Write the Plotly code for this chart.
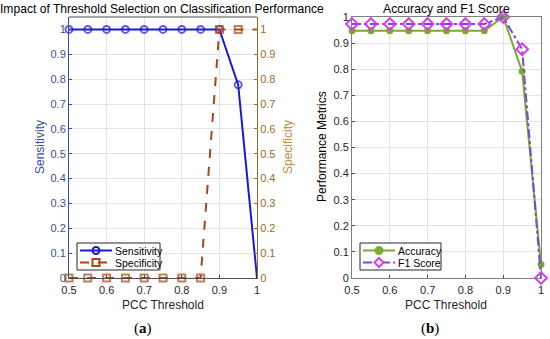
import plotly.graph_objects as go

thresholds = [0.5, 0.55, 0.6, 0.65, 0.7, 0.75, 0.8, 0.85, 0.9, 0.95, 1.0]
sensitivity = [1, 1, 1, 1, 1, 1, 1, 1, 1, 0.777, 0]
specificity = [0, 0, 0, 0, 0, 0, 0, 0, 1, 1, 1]
accuracy = [0.947, 0.947, 0.947, 0.947, 0.947, 0.947, 0.947, 0.947, 1.0, 0.792, 0.052]
f1_score = [0.973, 0.973, 0.973, 0.973, 0.973, 0.973, 0.973, 0.973, 1.0, 0.876, 0.0]
y_ticks = [0, 0.1, 0.2, 0.3, 0.4, 0.5, 0.6, 0.7, 0.8, 0.9, 1]
x_ticks = [0.5, 0.6, 0.7, 0.8, 0.9, 1]

W, H = 550, 339
def px(x):
    return x / W
def py(y):
    return 1 - y / H

FONT = "Liberation Sans, Arial, sans-serif"
BLUE = "#1a1ad0"
BROWN = "#a8461a"
LBLUE = "#3a4f9c"
LBROWN = "#9a6a2a"
GREEN = "#77ac30"
PURPLE = "#7a45e6"
MAGENTA = "#d63cf0"
GRID = "#e3e3e3"

# markers at the right edge (x = 1) are not visible in the left panel
edge_hidden = [7] * (len(thresholds) - 1) + [0]

fig = go.Figure()

fig.add_trace(go.Scatter(x=thresholds, y=sensitivity, name="Sensitivity", mode="lines+markers",
                         line=dict(color=BLUE, width=2),
                         marker=dict(symbol="circle-open", size=edge_hidden, color=BLUE, line=dict(width=2)),
                         xaxis="x", yaxis="y", cliponaxis=False))
fig.add_trace(go.Scatter(x=thresholds, y=specificity, name="Specificity", mode="lines+markers",
                         line=dict(color=BROWN, width=2, dash="dash"),
                         marker=dict(symbol="square-open", size=edge_hidden, color=BROWN, line=dict(width=2)),
                         xaxis="x", yaxis="y2", cliponaxis=False))
fig.add_trace(go.Scatter(x=thresholds, y=accuracy, name="Accuracy", mode="lines+markers",
                         line=dict(color=GREEN, width=2),
                         marker=dict(symbol="circle", size=7, color=GREEN),
                         xaxis="x2", yaxis="y3", cliponaxis=False))
fig.add_trace(go.Scatter(x=thresholds, y=f1_score, name="F1 Score", mode="lines+markers",
                         line=dict(color=PURPLE, width=2, dash="dashdot"),
                         marker=dict(symbol="diamond-open", size=9, color=MAGENTA, line=dict(width=2)),
                         xaxis="x2", yaxis="y3", cliponaxis=False))

xcommon = dict(range=[0.5, 1], tickvals=x_ticks, ticktext=[f"{v:g}" for v in x_ticks],
               showgrid=True, gridcolor=GRID, gridwidth=1, zeroline=False, automargin=False,
               showline=True, linecolor="#4d4d4d", linewidth=1, mirror=False,
               ticks="inside", ticklen=3, tickcolor="#4d4d4d", ticklabelstandoff=2,
               tickfont=dict(family=FONT, size=11, color="#262626"))

fig.update_layout(
    width=W, height=H, margin=dict(l=0, r=0, t=0, b=0),
    paper_bgcolor="white", plot_bgcolor="white", showlegend=False,
    xaxis=dict(domain=[px(69), px(257)], anchor="y", **xcommon),
    xaxis2=dict(domain=[px(352), px(541)], anchor="y3", **{**xcommon, "mirror": True, "linecolor": "#7f7f7f"}),
    yaxis=dict(domain=[py(278), py(17)], range=[0, 1.05], tickvals=y_ticks,
               ticktext=[f"{v:g}" for v in y_ticks], showgrid=True, gridcolor=GRID,
               zeroline=False, showline=True, linecolor=LBLUE, linewidth=1, automargin=False,
               ticks="inside", ticklen=3, tickcolor=LBLUE, anchor="x",
               tickfont=dict(family=FONT, size=11, color=LBLUE)),
    yaxis2=dict(overlaying="y", side="right", anchor="x", range=[0, 1.05], tickvals=y_ticks,
                ticktext=[f"{v:g}" for v in y_ticks], showgrid=False, zeroline=False, automargin=False,
                showline=True, linecolor=LBROWN, linewidth=1, ticks="inside", ticklen=3,
                tickcolor=LBROWN, tickfont=dict(family=FONT, size=11, color=LBROWN)),
    yaxis3=dict(domain=[py(278), py(17)], range=[0, 1], tickvals=y_ticks,
                ticktext=[f"{v:g}" for v in y_ticks], showgrid=True, gridcolor=GRID, automargin=False,
                zeroline=False, showline=True, mirror=True, linecolor="#7f7f7f", linewidth=1,
                ticks="inside", ticklen=3, tickcolor="#4d4d4d", anchor="x2",
                tickfont=dict(family=FONT, size=11, color="#262626")),
)

# top edge line of left panel (box)
fig.add_shape(type="line", xref="paper", yref="paper", x0=px(69), x1=px(257), y0=py(17), y1=py(17),
              line=dict(color="#4d4d4d", width=1), layer="above")

# ---- manual legends (box, sample lines, markers, labels) ----
def legend_box(x0, x1, y0, y1):
    fig.add_shape(type="rect", xref="paper", yref="paper", x0=px(x0), x1=px(x1), y0=py(y1), y1=py(y0),
                  fillcolor="white", line=dict(color="#262626", width=1), layer="above")

def legend_line(x0, x1, y, color, dash):
    fig.add_shape(type="line", xref="paper", yref="paper", x0=px(x0), x1=px(x1), y0=py(y), y1=py(y),
                  line=dict(color=color, width=2, dash=dash), layer="above")

def legend_circle(cx, cy, r, color, fill):
    fig.add_shape(type="circle", xref="paper", yref="paper", x0=px(cx - r), x1=px(cx + r),
                  y0=py(cy + r), y1=py(cy - r), line=dict(color=color, width=2),
                  fillcolor=fill, layer="above")

def legend_square(cx, cy, r, color):
    fig.add_shape(type="rect", xref="paper", yref="paper", x0=px(cx - r), x1=px(cx + r),
                  y0=py(cy + r), y1=py(cy - r), line=dict(color=color, width=2),
                  fillcolor="rgba(0,0,0,0)", layer="above")

def legend_diamond(cx, cy, r, color):
    path = (f"M {px(cx)},{py(cy - r)} L {px(cx + r)},{py(cy)} L {px(cx)},{py(cy + r)} "
            f"L {px(cx - r)},{py(cy)} Z")
    fig.add_shape(type="path", xref="paper", yref="paper", path=path,
                  line=dict(color=color, width=2), fillcolor="white", layer="above")

def legend_text(x, y, text):
    fig.add_annotation(text=text, x=px(x), y=py(y), xref="paper", yref="paper", showarrow=False,
                       xanchor="left", yanchor="middle", font=dict(family=FONT, size=10.5, color="black"))

legend_box(77, 160, 243, 270)
legend_line(80, 112, 250.5, BLUE, "solid")
legend_circle(96, 250.5, 3.5, BLUE, "rgba(0,0,0,0)")
legend_text(113, 250.5, "Sensitivity")
legend_line(80, 112, 262.5, BROWN, "dash")
legend_square(96, 262.5, 3.5, BROWN)
legend_text(113, 262.5, "Specificity")

legend_box(360, 441, 243, 270)
legend_line(363, 395, 250.5, GREEN, "solid")
legend_circle(379, 250.5, 3.5, GREEN, GREEN)
legend_text(396, 250.5, "Accuracy")
legend_line(363, 395, 262.5, PURPLE, "dashdot")
legend_diamond(379, 262.5, 4.5, MAGENTA)
legend_text(396, 262.5, "F1 Score")

ann = [
    dict(text="Impact of Threshold Selection on Classification Performance", x=px(162), y=py(9),
         font=dict(family=FONT, size=12.1, color="black")),
    dict(text="Accuracy and F1 Score", x=px(446), y=py(9), font=dict(family=FONT, size=12.2, color="black")),
    dict(text="Sensitivity", x=px(40), y=py(147), textangle=-90, font=dict(family=FONT, size=12, color=LBLUE)),
    dict(text="Specificity", x=px(288), y=py(147), textangle=-90, font=dict(family=FONT, size=12, color="#c08a40")),
    dict(text="Performance Metrics", x=px(322), y=py(147), textangle=-90, font=dict(family=FONT, size=12, color="black")),
    dict(text="PCC Threshold", x=px(163), y=py(305), font=dict(family=FONT, size=12, color="#262626")),
    dict(text="PCC Threshold", x=px(446), y=py(305), font=dict(family=FONT, size=12, color="#262626")),
    dict(text="(<b>a</b>)", x=px(143), y=py(328), font=dict(family="Liberation Serif, Times New Roman, serif", size=15, color="black")),
    dict(text="(<b>b</b>)", x=px(430), y=py(328), font=dict(family="Liberation Serif, Times New Roman, serif", size=15, color="black")),
]
for a in ann:
    a.update(xref="paper", yref="paper", showarrow=False, xanchor="center", yanchor="middle")
    fig.add_annotation(**a)

fig.write_html("out.html", config={"displayModeBar": False},
               post_script="document.body.style.margin='0';document.body.style.overflow='hidden';")
